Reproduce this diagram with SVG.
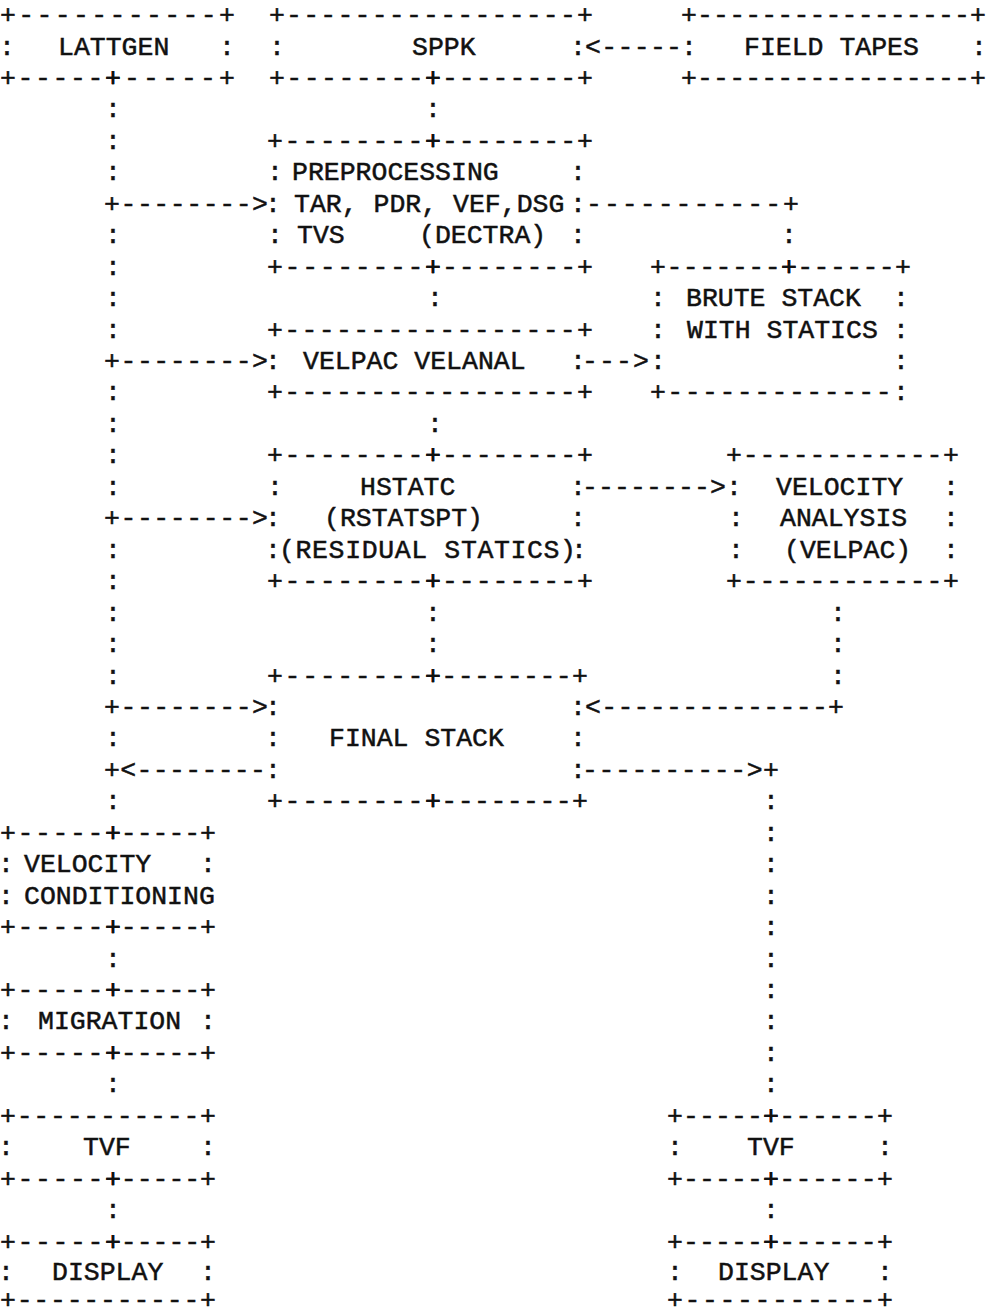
<svg xmlns="http://www.w3.org/2000/svg" width="986" height="1315" viewBox="0 0 986 1315">
<style>
text{font-family:"Liberation Mono","DejaVu Sans Mono",monospace;font-size:26.5px;fill:#111;stroke:#111;stroke-width:0.5px;white-space:pre}
.m{text-anchor:middle}
</style>
<rect width="986" height="1315" fill="#fff"/>
<g id="node-lattgen">
<text x="0" y="23" textLength="235" lengthAdjust="spacing">+-----------+</text>
<text class="m" x="7" y="54.5">:</text><text x="58" y="54.5">LATTGEN</text><text class="m" x="227" y="54.5">:</text>
<text x="0" y="86" textLength="121" lengthAdjust="spacing">+-----+</text><text x="105" y="86" textLength="130" lengthAdjust="spacing">+-----+</text>
</g>
<g id="node-sppk">
<text x="269" y="23" textLength="324" lengthAdjust="spacing">+-----------------+</text>
<text class="m" x="277" y="54.5">:</text><text x="412" y="54.5">SPPK</text><text class="m" x="578" y="54.5">:</text>
<text x="269" y="86" textLength="172" lengthAdjust="spacing">+--------+</text><text x="425" y="86" textLength="168" lengthAdjust="spacing">+--------+</text>
</g>
<g id="node-field-tapes">
<text x="681" y="23" textLength="305" lengthAdjust="spacing">+-----------------+</text>
<text class="m" x="689" y="54.5">:</text><text x="744" y="54.5">FIELD TAPES</text><text class="m" x="979" y="54.5">:</text>
<text x="681" y="86" textLength="305" lengthAdjust="spacing">+-----------------+</text>
</g>
<g id="node-preprocessing">
<text x="267" y="148.8" textLength="174" lengthAdjust="spacing">+--------+</text><text x="425" y="148.8" textLength="168" lengthAdjust="spacing">+--------+</text>
<text class="m" x="275" y="180.3">:</text><text x="292" y="180.3">PREPROCESSING</text><text class="m" x="578" y="180.3">:</text>
<text class="m" x="273" y="211.7">:</text><text x="294" y="211.7">TAR, PDR, VEF,DSG</text><text class="m" x="578" y="211.7">:</text>
<text class="m" x="275" y="243.2">:</text><text x="297" y="243.2">TVS</text><text x="419" y="243.2">(DECTRA)</text><text class="m" x="578" y="243.2">:</text>
<text x="267" y="274.6" textLength="174" lengthAdjust="spacing">+--------+</text><text x="425" y="274.6" textLength="168" lengthAdjust="spacing">+--------+</text>
</g>
<g id="node-brute-stack">
<text x="650" y="274.6" textLength="147" lengthAdjust="spacing">+-------+</text><text x="781" y="274.6" textLength="130" lengthAdjust="spacing">+------+</text>
<text class="m" x="658" y="306">:</text><text x="686" y="306">BRUTE STACK</text><text class="m" x="901" y="306">:</text>
<text class="m" x="658" y="337.5">:</text><text x="687" y="337.5">WITH STATICS</text><text class="m" x="901" y="337.5">:</text>
<text class="m" x="658" y="369">:</text><text class="m" x="901" y="369">:</text>
<text x="650" y="400.4" textLength="259" lengthAdjust="spacing">+-------------:</text>
</g>
<g id="node-velpac-velanal">
<text x="267" y="337.5" textLength="326" lengthAdjust="spacing">+-----------------+</text>
<text class="m" x="273" y="369">:</text><text x="303" y="369">VELPAC VELANAL</text><text class="m" x="578" y="369">:</text>
<text x="267" y="400.4" textLength="326" lengthAdjust="spacing">+-----------------+</text>
</g>
<g id="node-hstatc">
<text x="267" y="463.3" textLength="174" lengthAdjust="spacing">+--------+</text><text x="425" y="463.3" textLength="168" lengthAdjust="spacing">+--------+</text>
<text class="m" x="275" y="494.8">:</text><text x="360" y="494.8">HSTATC</text><text class="m" x="578" y="494.8">:</text>
<text class="m" x="273" y="526.2">:</text><text x="324" y="526.2">(RSTATSPT)</text><text class="m" x="578" y="526.2">:</text>
<text class="m" x="273" y="557.7">:</text><text x="279" y="557.7" textLength="297" lengthAdjust="spacing">(RESIDUAL STATICS)</text><text class="m" x="579" y="557.7">:</text>
<text x="267" y="589.1" textLength="174" lengthAdjust="spacing">+--------+</text><text x="425" y="589.1" textLength="168" lengthAdjust="spacing">+--------+</text>
</g>
<g id="node-velocity-analysis">
<text x="726" y="463.3" textLength="233" lengthAdjust="spacing">+------------+</text>
<text class="m" x="734" y="494.8">:</text><text x="776" y="494.8">VELOCITY</text><text class="m" x="951" y="494.8">:</text>
<text class="m" x="736" y="526.2">:</text><text x="780" y="526.2">ANALYSIS</text><text class="m" x="951" y="526.2">:</text>
<text class="m" x="736" y="557.7">:</text><text x="784" y="557.7">(VELPAC)</text><text class="m" x="951" y="557.7">:</text>
<text x="726" y="589.1" textLength="233" lengthAdjust="spacing">+------------+</text>
</g>
<g id="node-final-stack">
<text x="267" y="683.5" textLength="174" lengthAdjust="spacing">+--------+</text><text x="425" y="683.5" textLength="163" lengthAdjust="spacing">+--------+</text>
<text class="m" x="273" y="714.9">:</text><text class="m" x="578" y="714.9">:</text>
<text class="m" x="273" y="746.4">:</text><text x="329" y="746.4">FINAL STACK</text><text class="m" x="578" y="746.4">:</text>
<text class="m" x="273" y="777.8">:</text><text class="m" x="578" y="777.8">:</text>
<text x="267" y="809.3" textLength="174" lengthAdjust="spacing">+--------+</text><text x="425" y="809.3" textLength="163" lengthAdjust="spacing">+--------+</text>
</g>
<g id="node-velocity-conditioning">
<text x="0" y="840.7" textLength="121" lengthAdjust="spacing">+-----+</text><text x="105" y="840.7" textLength="111" lengthAdjust="spacing">+-----+</text>
<text class="m" x="6" y="872.2">:</text><text x="24" y="872.2">VELOCITY</text><text class="m" x="208" y="872.2">:</text>
<text class="m" x="6" y="903.6">:</text><text x="24" y="903.6">CONDITIONING</text>
<text x="0" y="935" textLength="121" lengthAdjust="spacing">+-----+</text><text x="105" y="935" textLength="111" lengthAdjust="spacing">+-----+</text>
</g>
<g id="node-migration">
<text x="0" y="998" textLength="121" lengthAdjust="spacing">+-----+</text><text x="105" y="998" textLength="111" lengthAdjust="spacing">+-----+</text>
<text class="m" x="6" y="1029.4">:</text><text x="38" y="1029.4">MIGRATION</text><text class="m" x="208" y="1029.4">:</text>
<text x="0" y="1060.9" textLength="121" lengthAdjust="spacing">+-----+</text><text x="105" y="1060.9" textLength="111" lengthAdjust="spacing">+-----+</text>
</g>
<g id="node-tvf-left">
<text x="0" y="1123.8" textLength="216" lengthAdjust="spacing">+-----------+</text>
<text class="m" x="6" y="1155.2">:</text><text x="83" y="1155.2">TVF</text><text class="m" x="208" y="1155.2">:</text>
<text x="0" y="1186.7" textLength="121" lengthAdjust="spacing">+-----+</text><text x="105" y="1186.7" textLength="111" lengthAdjust="spacing">+-----+</text>
</g>
<g id="node-display-left">
<text x="0" y="1249.6" textLength="121" lengthAdjust="spacing">+-----+</text><text x="105" y="1249.6" textLength="111" lengthAdjust="spacing">+-----+</text>
<text class="m" x="6" y="1280">:</text><text x="52" y="1280">DISPLAY</text><text class="m" x="208" y="1280">:</text>
<text x="0" y="1307.5" textLength="216" lengthAdjust="spacing">+-----------+</text>
</g>
<g id="node-tvf-right">
<text x="667" y="1123.8" textLength="112" lengthAdjust="spacing">+-----+</text><text x="763" y="1123.8" textLength="130" lengthAdjust="spacing">+------+</text>
<text class="m" x="675" y="1155.2">:</text><text x="747" y="1155.2">TVF</text><text class="m" x="885" y="1155.2">:</text>
<text x="667" y="1186.7" textLength="112" lengthAdjust="spacing">+-----+</text><text x="763" y="1186.7" textLength="130" lengthAdjust="spacing">+------+</text>
</g>
<g id="node-display-right">
<text x="667" y="1249.6" textLength="112" lengthAdjust="spacing">+-----+</text><text x="763" y="1249.6" textLength="130" lengthAdjust="spacing">+------+</text>
<text class="m" x="675" y="1280">:</text><text x="718" y="1280">DISPLAY</text><text class="m" x="885" y="1280">:</text>
<text x="667" y="1307.5" textLength="226" lengthAdjust="spacing">+-----------+</text>
</g>
<g id="connectors">
<text x="585" y="54.5" textLength="97" lengthAdjust="spacing">&lt;-----</text>
<text class="m" x="113" y="117.4">:</text><text class="m" x="433" y="117.4">:</text>
<text class="m" x="113" y="148.8">:</text>
<text class="m" x="113" y="180.3">:</text>
<text x="104" y="211.7" textLength="164" lengthAdjust="spacing">+--------&gt;</text>
<text x="586" y="211.7" textLength="213" lengthAdjust="spacing">-----------+</text>
<text class="m" x="113" y="243.2">:</text><text class="m" x="789" y="243.2">:</text>
<text class="m" x="113" y="274.6">:</text>
<text class="m" x="113" y="306">:</text><text class="m" x="435" y="306">:</text>
<text class="m" x="113" y="337.5">:</text>
<text x="104" y="369" textLength="164" lengthAdjust="spacing">+--------&gt;</text>
<text x="582" y="369" textLength="67" lengthAdjust="spacing">---&gt;</text>
<text class="m" x="113" y="400.4">:</text>
<text class="m" x="113" y="431.9">:</text><text class="m" x="435" y="431.9">:</text>
<text class="m" x="113" y="463.3">:</text>
<text class="m" x="113" y="494.8">:</text>
<text x="582" y="494.8" textLength="144" lengthAdjust="spacing">--------&gt;</text>
<text x="104" y="526.2" textLength="164" lengthAdjust="spacing">+--------&gt;</text>
<text class="m" x="113" y="557.7">:</text>
<text class="m" x="113" y="589.1">:</text>
<text class="m" x="113" y="620.6">:</text><text class="m" x="433" y="620.6">:</text><text class="m" x="838" y="620.6">:</text>
<text class="m" x="113" y="652">:</text><text class="m" x="433" y="652">:</text><text class="m" x="838" y="652">:</text>
<text class="m" x="113" y="683.5">:</text><text class="m" x="838" y="683.5">:</text>
<text x="104" y="714.9" textLength="164" lengthAdjust="spacing">+--------&gt;</text>
<text x="585" y="714.9" textLength="259" lengthAdjust="spacing">&lt;--------------+</text>
<text class="m" x="113" y="746.4">:</text>
<text x="104" y="777.8" textLength="162" lengthAdjust="spacing">+&lt;--------</text>
<text x="582" y="777.8" textLength="197" lengthAdjust="spacing">----------&gt;+</text>
<text class="m" x="113" y="809.3">:</text><text class="m" x="771" y="809.3">:</text>
<text class="m" x="771" y="840.7">:</text>
<text class="m" x="771" y="872.2">:</text>
<text class="m" x="771" y="903.6">:</text>
<text class="m" x="771" y="935">:</text>
<text class="m" x="113" y="966.5">:</text><text class="m" x="771" y="966.5">:</text>
<text class="m" x="771" y="998">:</text>
<text class="m" x="771" y="1029.4">:</text>
<text class="m" x="771" y="1060.9">:</text>
<text class="m" x="113" y="1092.3">:</text><text class="m" x="771" y="1092.3">:</text>
<text class="m" x="113" y="1218.1">:</text><text class="m" x="771" y="1218.1">:</text>
</g>
</svg>
